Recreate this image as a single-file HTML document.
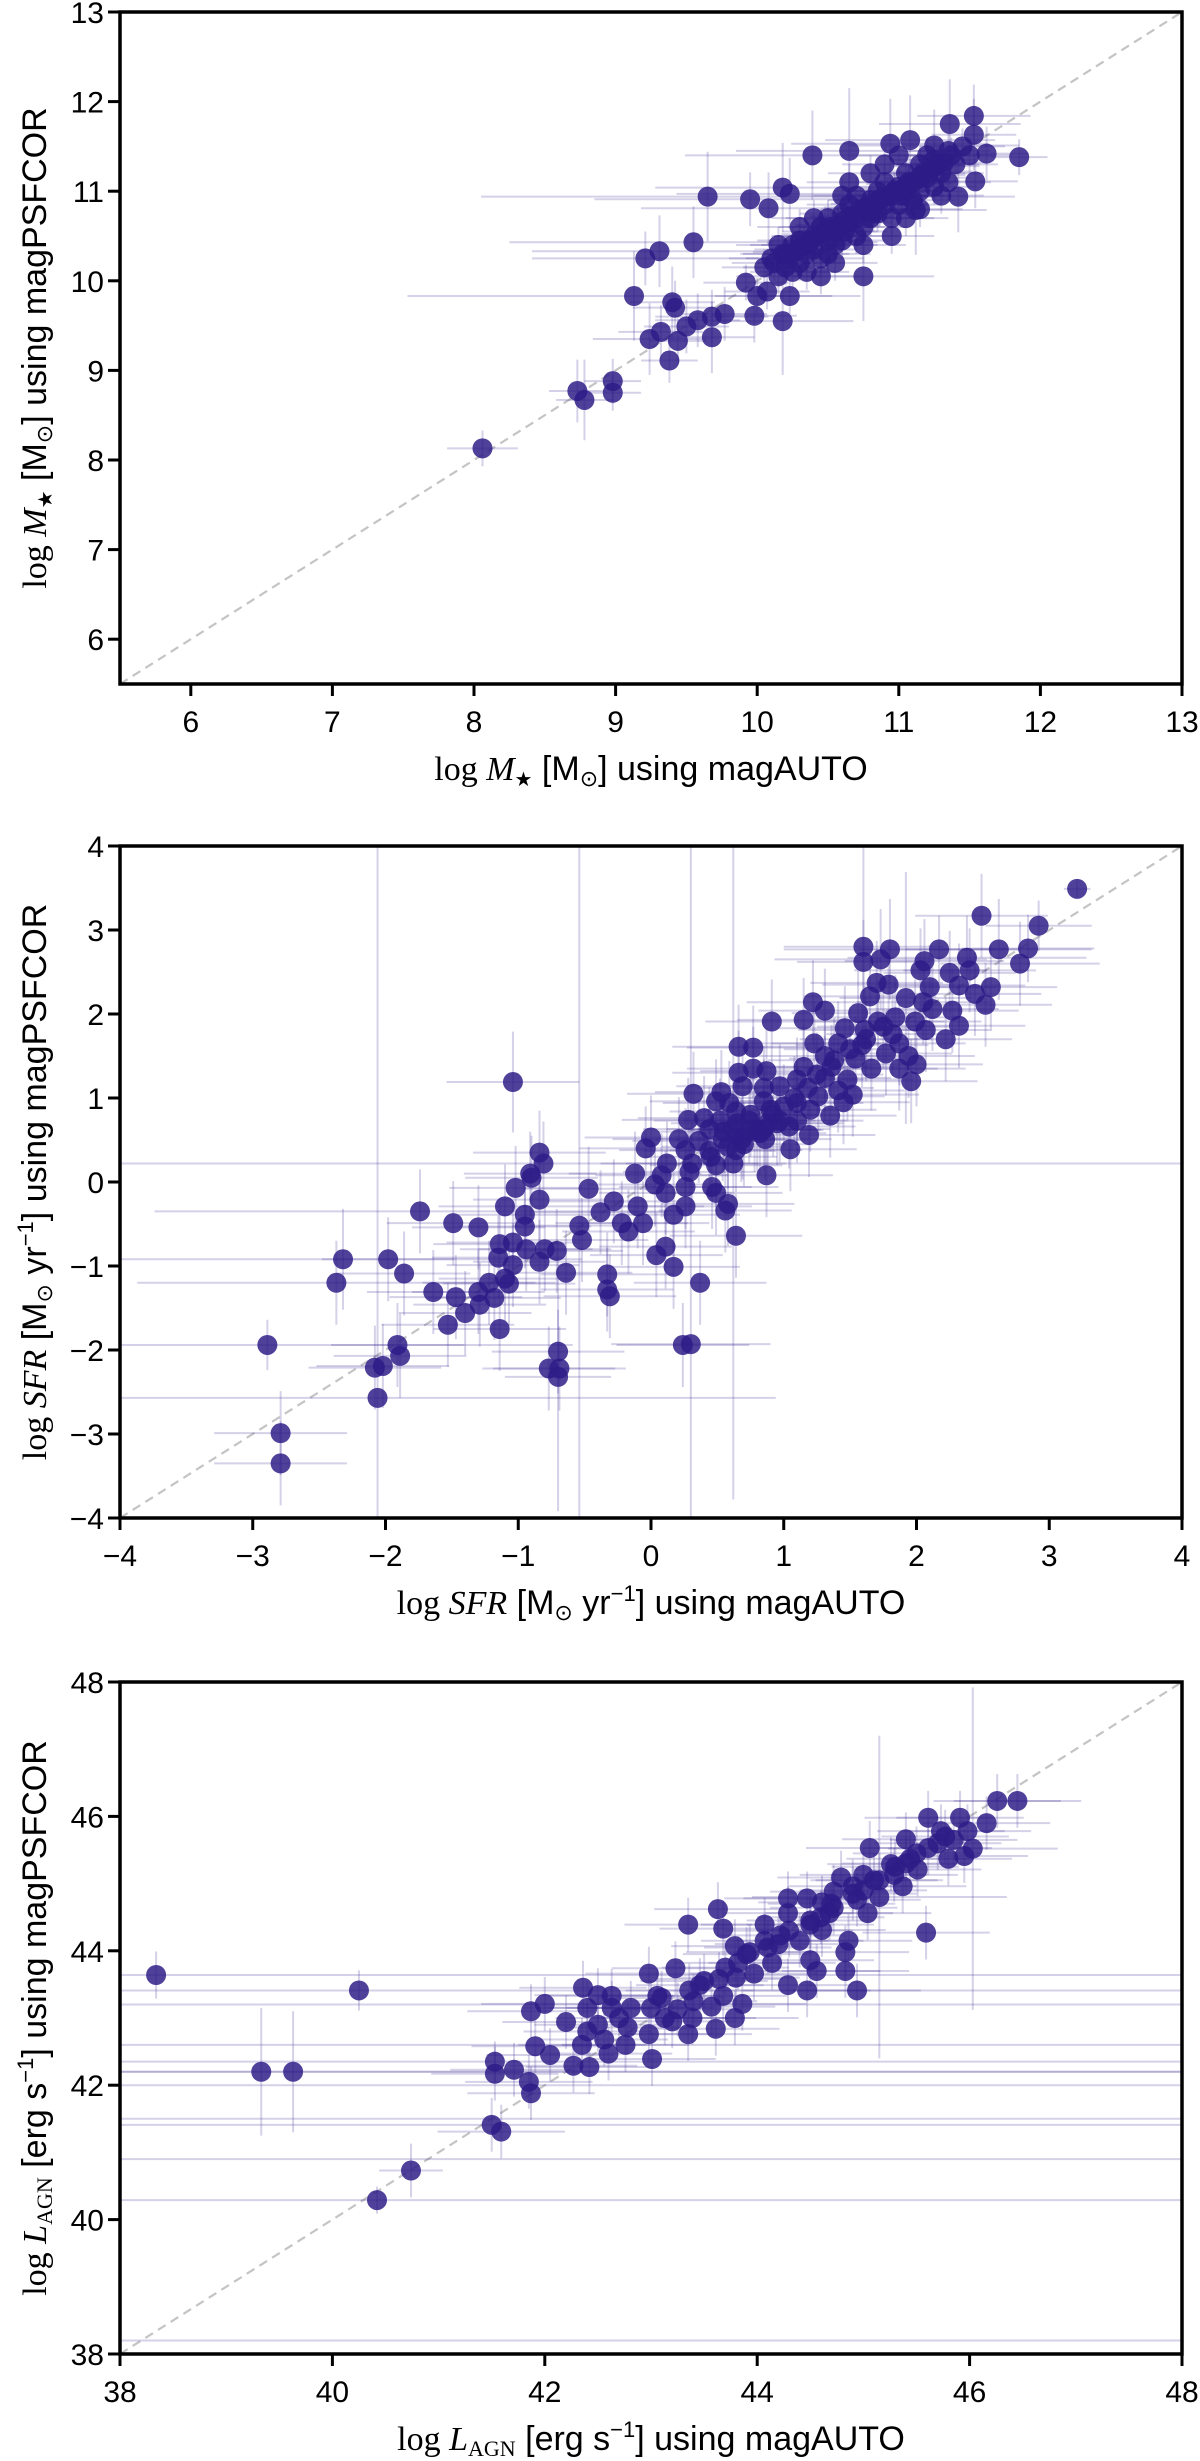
<!DOCTYPE html>
<html><head><meta charset="utf-8"><style>
html,body{margin:0;padding:0;background:#fff}
svg{display:block}
text{font-family:"Liberation Sans",sans-serif;fill:#000}
.tk{font-size:30px}
.ti{font-size:34px}
.sr{font-family:"Liberation Serif",serif}
</style></head><body>
<svg id="fig" width="1200" height="2461" viewBox="0 0 1200 2461" xmlns="http://www.w3.org/2000/svg"></svg>
<script>
// ---- Panel 1: stellar mass ----
const mX=[9.13,9.65,9.55,9.31,9.21,9.95,8.06,8.73,8.78,8.98,8.98,9.38,9.24,9.32,9.44,9.50,9.58,9.68,9.68,9.77,9.40,9.42,9.98,10.18,10.08,10.18,10.23,10.39,10.65,10.94,11.08,11.25,11.36,11.53,11.53,11.62,11.85,11.54,11.42,11.12,10.75,10.23,9.92,10.00,10.07,
10.05,10.1,10.15,10.2,10.2,10.25,10.3,10.3,10.35,10.35,10.4,10.4,10.45,10.45,10.5,10.5,10.5,10.55,10.55,10.6,10.6,10.6,10.65,10.65,10.7,10.7,10.7,10.75,10.75,10.8,10.8,10.85,10.85,10.9,10.9,10.95,10.95,11.0,11.0,11.05,11.05,11.1,11.1,11.15,11.15,11.2,11.25,11.25,11.3,11.35,11.4,11.45,11.5,11.35,11.2,10.8,10.6,10.4,10.3,10.55,10.75,10.95,11.05,11.15,10.65,10.9,11.0,11.3,10.45,10.15,10.25,
10.12,10.18,10.22,10.28,10.33,10.38,10.42,10.48,10.52,10.57,10.62,10.67,10.72,10.77,10.82,10.87,10.92,10.97,11.02,11.07,11.12,11.17,11.22,11.27,11.32,10.27,10.37,10.47,10.57,10.67,10.77,10.87,10.97,11.07,11.17,11.27,11.37,10.62,10.82,11.02];
const mY=[9.83,10.94,10.43,10.33,10.25,10.91,8.13,8.77,8.67,8.88,8.75,9.11,9.35,9.43,9.33,9.49,9.56,9.60,9.37,9.63,9.76,9.70,9.61,9.55,10.81,11.04,10.97,11.40,11.45,11.53,11.57,11.51,11.75,11.84,11.63,11.42,11.38,11.11,10.94,10.79,10.05,9.83,9.98,9.83,9.88,
10.15,10.25,10.05,10.3,10.15,10.4,10.2,10.45,10.3,10.1,10.5,10.35,10.25,10.6,10.45,10.7,10.3,10.55,10.4,10.75,10.6,10.45,10.65,10.85,10.5,10.7,10.95,10.8,10.6,10.9,10.7,11.0,10.75,10.85,11.1,10.95,10.7,11.05,10.85,11.2,10.95,11.1,10.9,11.3,11.0,11.15,11.05,11.35,11.2,11.45,11.3,11.5,11.4,11.1,11.4,11.2,10.95,10.7,10.6,10.2,10.4,10.5,10.7,10.8,11.1,11.3,11.4,10.95,10.05,10.4,10.1,
10.2,10.3,10.25,10.35,10.4,10.45,10.5,10.55,10.6,10.62,10.68,10.72,10.78,10.8,10.86,10.9,10.95,11.0,11.02,11.08,11.12,11.18,11.22,11.28,11.32,10.32,10.42,10.52,10.62,10.72,10.82,10.92,11.0,11.1,11.2,11.3,11.4,10.55,10.75,10.95];
const mXerr=[1.6,1.6,1.3,0.9,0.8,1.1,0.25,0.2,0.2,0.2,0.2,0.2,0.4,0.3,0.2,0.3,0.3,0.4,0.3,0.3,0.3,0.3,0.3,0.5,0.9,0.9,0.8,0.9,0.8,0.7,0.6,0.6,0.5,0.4,0.3,0.3,0.2,0.3,0.4,0.5,0.5];
const mYerr=[0.5,0.5,0.4,0.4,0.3,0.3,0.2,0.35,0.45,0.25,0.2,0.25,0.4,0.3,0.25,0.3,0.3,0.3,0.4,0.3,0.4,0.3,0.3,0.6,0.4,0.5,0.4,0.5,0.7,0.5,0.5,0.4,0.5,0.35,0.4,0.3,0.2,0.3,0.4,0.5,0.5];
const mTicks=[6,7,8,9,10,11,12,13];

// ---- Panel 2: SFR ----
const sX=[-0.81,-2.06,-0.54,0.30,0.62,-2.89,-2.37,-2.32,-1.74,-1.04,-0.70,1.60,1.92,
3.21,2.49,2.92,1.80,2.17,2.62,2.84,1.60,1.73,2.06,2.38,2.78,2.03,2.25,2.40,1.70,1.79,2.10,2.32,2.56,1.65,2.44,1.22,2.05,2.52,1.31,1.56,2.12,2.27,0.91,1.15,1.71,1.84,1.99,2.32,1.46,1.61,1.82,2.07,2.22,1.41,1.23,1.59,1.87,0.66,0.77,1.31,1.54,1.77,1.94,1.15,1.36,1.66,1.87,2.00,0.66,0.77,0.87,1.10,1.31,1.48,1.96,0.69,0.85,0.97,1.18,1.41,0.32,0.53,1.26,1.52,0.49,0.59,0.85,1.10,1.45,0.64,0.90,1.20,1.35,0.28,0.40,0.52,0.74,0.97,1.10,0.44,0.62,0.85,1.04,1.19,0.00,0.21,0.36,0.54,0.69,0.86,1.05,-0.04,0.26,0.44,0.64,-0.84,0.12,0.31,0.49,-0.91,-0.12,0.08,0.29,0.87,-0.90,-1.02,0.03,0.26,0.46,-0.47,-0.84,0.11,0.49,-1.10,-0.28,-0.10,0.26,0.58,-0.38,-0.95,0.17,0.56,-1.49,-1.30,-0.95,-0.22,-0.06,-0.17,0.64,-1.14,-1.04,-0.52,-0.94,-0.80,-0.71,0.11,0.04,-1.15,-1.98,-0.84,-1.04,0.17,-1.86,-0.64,-0.33,-1.10,-1.22,-1.07,0.37,-0.33,-1.64,-1.30,-1.47,-0.31,-1.18,-1.29,-1.40,-1.53,-1.14,-1.91,0.24,-0.70,-1.89,-2.02,-2.08,-0.77,-0.69,-2.79,-2.79,
0.55,0.65,0.75,0.80,0.92,1.00,1.08,0.70,0.82,0.95,0.45,0.58,0.68,0.78,0.88,1.25,1.38,1.50,1.62,1.75];
const sY=[0.22,-2.57,-0.52,-1.93,0.22,-1.94,-1.20,-0.92,-0.35,1.19,-2.32,2.80,2.19,
3.49,3.17,3.05,2.77,2.77,2.77,2.78,2.62,2.65,2.63,2.67,2.60,2.52,2.49,2.52,2.37,2.35,2.32,2.34,2.32,2.21,2.24,2.14,2.14,2.11,2.04,2.01,2.06,2.04,1.91,1.93,1.91,1.96,1.91,1.86,1.83,1.81,1.76,1.81,1.70,1.65,1.65,1.63,1.65,1.61,1.60,1.50,1.47,1.53,1.50,1.37,1.37,1.35,1.35,1.40,1.30,1.35,1.32,1.22,1.24,1.22,1.20,1.14,1.12,1.14,1.12,1.09,1.05,1.07,1.02,1.04,0.96,0.94,0.96,0.94,0.95,0.84,0.86,0.86,0.79,0.74,0.76,0.73,0.73,0.73,0.73,0.63,0.63,0.63,0.66,0.56,0.53,0.51,0.49,0.51,0.53,0.51,0.39,0.40,0.38,0.37,0.38,0.35,0.22,0.22,0.20,0.10,0.10,0.08,0.12,0.08,0.05,-0.07,-0.03,-0.06,-0.06,-0.08,-0.21,-0.13,-0.13,-0.29,-0.23,-0.29,-0.29,-0.26,-0.36,-0.39,-0.39,-0.34,-0.49,-0.54,-0.53,-0.49,-0.49,-0.59,-0.64,-0.74,-0.72,-0.69,-0.80,-0.80,-0.82,-0.77,-0.87,-0.90,-0.92,-0.95,-0.99,-1.01,-1.09,-1.08,-1.10,-1.15,-1.20,-1.21,-1.20,-1.28,-1.31,-1.31,-1.37,-1.36,-1.38,-1.46,-1.56,-1.70,-1.75,-1.94,-1.94,-2.02,-2.07,-2.19,-2.21,-2.22,-2.22,-2.99,-3.35,
0.60,0.70,0.80,0.62,0.80,0.90,1.00,0.45,0.58,0.70,0.30,0.42,0.50,0.62,0.70,1.28,1.45,1.58,1.70,1.85];
const sXerr=[5,3,0.5,0.6,0.4,2.3,1.5,1.8,2.0,0.5,0.4,0.6,0.5,0.1,0.5,0.4,0.8,0.6,0.7,0.5,0.5,0.8,0.6,0.9,0.6];
const sYerr=[0.5,7,5,6,4,0.3,0.5,0.6,0.5,0.6,1.6,1.2,1.5,0.1,0.5,0.3,0.6,0.4,0.6,0.4,0.5,0.6,0.5,0.5,0.5];
const sTicks=[-4,-3,-2,-1,0,1,2,3,4];

// ---- Panel 3: AGN luminosity ----
const lX=[38.34,40.25,39.33,39.63,40.42,41.50,41.53,40.74,46.03,45.15,30,30,30,30,30,30,
41.59,41.53,41.71,41.85,41.87,41.87,41.91,42.05,42.00,42.20,42.27,42.36,42.50,42.40,42.63,42.81,42.40,42.56,42.78,42.35,42.60,42.42,42.76,43.01,42.98,42.98,43.23,43.35,43.63,43.68,43.06,43.13,43.35,43.61,43.57,43.79,43.86,43.46,43.36,43.64,43.82,43.93,44.07,44.14,44.29,44.47,44.50,44.56,44.83,44.94,44.83,44.86,44.29,44.29,44.47,44.50,44.68,44.79,45.04,45.06,44.94,45.00,45.26,45.40,45.37,45.51,45.59,45.61,45.77,45.80,45.91,45.95,45.98,46.16,46.26,46.45,45.73,44.07,44.22,43.97,43.68,43.25,43.79,44.40,44.61,44.72,45.15,45.29,45.44,45.61,42.63,43.39,43.00,44.61,44.72,44.90,
43.50,43.70,43.90,44.10,44.30,44.50,44.70,44.90,45.10,45.30,45.50,45.70,43.40,43.80,44.20,44.60,45.00,45.40,45.85,42.50,42.70,43.10,43.20];
const lY=[43.64,43.41,42.20,42.20,40.29,41.41,42.35,40.73,45.52,44.80,38.2,40.9,41.5,42.6,43.2,42.0,
41.31,42.17,42.23,42.05,41.88,43.10,42.58,42.45,43.21,42.94,42.29,43.45,43.34,43.15,43.15,43.15,42.80,42.68,42.86,42.60,42.47,42.27,42.60,42.39,42.76,43.66,43.74,44.39,44.62,44.33,43.33,43.00,42.76,42.84,43.17,43.00,43.21,43.49,43.41,43.58,43.82,43.98,44.15,43.82,43.49,43.41,43.86,43.70,43.70,43.41,43.98,44.15,44.56,44.78,44.78,44.39,44.56,45.09,44.56,45.53,44.76,45.13,45.29,45.66,44.96,45.21,44.27,45.98,45.70,45.37,45.98,45.41,45.78,45.90,46.23,46.23,45.78,44.39,44.23,43.66,43.33,43.13,44.07,44.15,44.31,44.64,45.05,45.13,45.37,45.53,43.33,43.00,43.15,44.72,44.88,44.96,
43.55,43.75,43.95,44.05,44.30,44.45,44.70,44.85,45.05,45.25,45.45,45.60,43.25,43.60,44.10,44.50,44.90,45.30,45.65,42.90,43.00,43.30,42.95];
const lXerr=[12,10,10,10,10,9,9,0.3,0.8,1.2,20,20,20,20,20,20];
const lYerr=[0.35,0.3,0.95,0.9,0.2,0.4,0.3,0.4,2.4,2.4,0,0,0,0,0,0];
const lTicks=[38,40,42,44,46,48];

const NS="http://www.w3.org/2000/svg";
const svg=document.getElementById('fig');
function mk(tag,attrs,parent){const e=document.createElementNS(NS,tag);for(const k in attrs)e.setAttribute(k,attrs[k]);(parent||svg).appendChild(e);return e;}

function panel(id,cfg,xs,ys,xe,ye,ticks,dxe,dye){
  const L=120,R=1182,T=cfg.top,B=cfg.top+672;
  const sx=v=>L+(v-cfg.min)/(cfg.max-cfg.min)*(R-L);
  const sy=v=>B-(v-cfg.min)/(cfg.max-cfg.min)*(B-T);
  const g=mk('g',{});
  
  
  const cp=mk('clipPath',{id:'c'+id},g);
  mk('rect',{x:L,y:T,width:R-L,height:B-T},cp);
  const diag=mk('line',{x1:sx(cfg.min),y1:sy(cfg.min),x2:sx(cfg.max),y2:sy(cfg.max),stroke:'#c4c4c4','stroke-width':2.2,'stroke-dasharray':'9,6'},g);
  
  
  const eg=mk('g',{'clip-path':'url(#c'+id+')',stroke:'rgba(62,45,150,0.22)','stroke-width':2},g);
  
  
  for(let i=0;i<xs.length;i++){
    const a=xe[i]!==undefined?xe[i]:dxe, b=ye[i]!==undefined?ye[i]:dye;
    mk('line',{x1:sx(xs[i]-a),x2:sx(xs[i]+a),y1:sy(ys[i]),y2:sy(ys[i])},eg);
    if(b>0) mk('line',{x1:sx(xs[i]),x2:sx(xs[i]),y1:sy(ys[i]-b),y2:sy(ys[i]+b)},eg);
  }
  const pg=mk('g',{'clip-path':'url(#c'+id+')',fill:'rgba(45,28,135,0.84)'},g);
  
  
  for(let i=0;i<xs.length;i++){
    const c=mk('circle',{cx:sx(xs[i]),cy:sy(ys[i]),r:10},pg);
    
    
  }
  const fr=mk('rect',{x:L,y:T,width:R-L,height:B-T,fill:'none',stroke:'#000','stroke-width':3.5},g);
  
  
  ticks.forEach(t=>{
    mk('line',{x1:sx(t),x2:sx(t),y1:B,y2:B+12,stroke:'#000','stroke-width':3},g);
    const tx=mk('text',{x:sx(t),y:B+48,'text-anchor':'middle',class:'tk'},g);
    tx.textContent=(t<0?'\u2212'+(-t):t);
    
    
    mk('line',{x1:L-12,x2:L,y1:sy(t),y2:sy(t),stroke:'#000','stroke-width':3},g);
    const ty=mk('text',{x:L-16,y:sy(t)+11,'text-anchor':'end',class:'tk'},g);
    ty.textContent=(t<0?'\u2212'+(-t):t);
    
    
  });
  const xt=mk('text',{x:(L+R)/2,y:B+96,'text-anchor':'middle',class:'ti'},g);
  xt.innerHTML=cfg.lab+' using magAUTO';
  
  
  const yt=mk('text',{x:0,y:0,'text-anchor':'middle',class:'ti',transform:'translate(46,'+((T+B)/2)+') rotate(-90)'},g);
  yt.innerHTML=cfg.lab+' using magPSFCOR';
  
  
}
const mLab='<tspan class="sr">log </tspan><tspan class="sr" font-style="italic">M</tspan><tspan font-size="20" dy="6">\u2605</tspan><tspan dy="-6"> [M</tspan><tspan font-size="22" dy="6">\u2299</tspan><tspan dy="-6">]</tspan>';
const sLab='<tspan class="sr">log </tspan><tspan class="sr" font-style="italic">SFR</tspan><tspan> [M</tspan><tspan font-size="22" dy="6">\u2299</tspan><tspan dy="-6"> yr</tspan><tspan font-size="22" dy="-13">\u22121</tspan><tspan dy="13">]</tspan>';
const lLab='<tspan class="sr">log </tspan><tspan class="sr" font-style="italic">L</tspan><tspan class="sr" font-size="22" dy="6">AGN</tspan><tspan dy="-6"> [erg s</tspan><tspan font-size="22" dy="-13">\u22121</tspan><tspan dy="13">]</tspan>';
panel('mass',{top:12,min:5.5,max:13,lab:mLab},mX,mY,mXerr,mYerr,mTicks,0.3,0.2);
panel('sfr',{top:846,min:-4,max:4,lab:sLab},sX,sY,sXerr,sYerr,sTicks,0.5,0.5);
panel('lagn',{top:1682,min:38,max:48,lab:lLab},lX,lY,lXerr,lYerr,lTicks,0.6,0.4);
</script>
</body></html>
